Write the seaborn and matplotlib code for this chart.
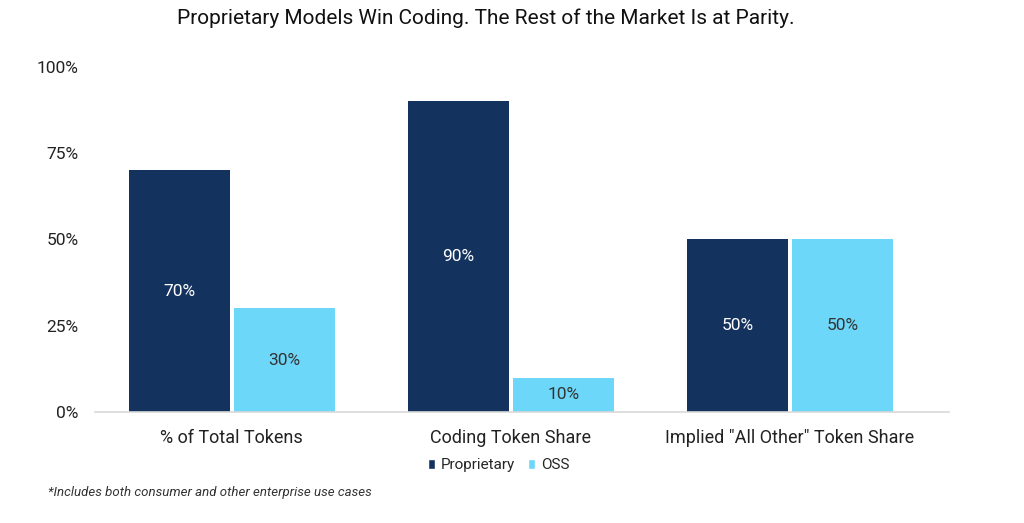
import matplotlib
matplotlib.use("Agg")
import matplotlib.pyplot as plt
import seaborn as sns
import pandas as pd
from matplotlib.patches import Patch

categories = ["% of Total Tokens", "Coding Token Share", 'Implied "All Other" Token Share']
series = ["Proprietary", "OSS"]
proprietary = [0.70, 0.90, 0.50]
oss = [0.30, 0.10, 0.50]
yticks = [0, 0.25, 0.5, 0.75, 1.0]
ytick_labels = ["0%", "25%", "50%", "75%", "100%"]
title = "Proprietary Models Win Coding. The Rest of the Market Is at Parity."
footnote = "*Includes both consumer and other enterprise use cases"

colors = {"Proprietary": "#14325e", "OSS": "#6dd7f9"}
label_colors = {"Proprietary": "white", "OSS": "#333333"}

df = pd.DataFrame({
    "category": categories * 2,
    "series": ["Proprietary"] * 3 + ["OSS"] * 3,
    "value": proprietary + oss,
})

sns.set_theme(style="white")
plt.rcParams["font.family"] = ["Roboto", "DejaVu Sans"]

fig = plt.figure(figsize=(10.24, 5.23), dpi=100)
ax = fig.add_axes([0.0928, 0.2122, 0.834, 0.66])

sns.barplot(data=df, x="category", y="value", hue="series", order=categories,
            hue_order=series, palette=colors, width=0.75, gap=0.035,
            saturation=1, linewidth=0, ax=ax, legend=False)

for cont, s in zip(ax.containers, series):
    labels = [f"{v*100:.0f}%" for v in cont.datavalues]
    ax.bar_label(cont, labels=labels, label_type="center", color=label_colors[s],
                 fontsize=12.5)

ax.set_xlim(-0.49, 2.57)
ax.set_ylim(0, 1.0)
ax.set_yticks(yticks)
ax.set_yticklabels(ytick_labels, fontsize=12.5, color="#222222")
ax.tick_params(axis="x", labelsize=13, colors="#222222", pad=12, length=0)
ax.tick_params(axis="y", pad=12, length=0)
ax.set_xlabel("")
ax.set_ylabel("")
for sp in ["top", "right", "left"]:
    ax.spines[sp].set_visible(False)
ax.spines["bottom"].set_color("#d9d9d9")
ax.spines["bottom"].set_linewidth(1.2)
ax.grid(False)

fig.text(0.474, 0.965, title, ha="center", va="center", fontsize=15, color="#111111")

handles = [Patch(facecolor=colors[s], label=s) for s in series]
fig.legend(handles=handles, loc="center", bbox_to_anchor=(0.487, 0.11), ncol=2,
           frameon=False, fontsize=11, handlelength=0.45, handleheight=0.7,
           handletextpad=0.35, columnspacing=0.9)

fig.text(0.047, 0.058, footnote, ha="left", va="center", fontsize=9.5,
         style="italic", color="#333333")

fig.savefig("out.png", dpi=100)
